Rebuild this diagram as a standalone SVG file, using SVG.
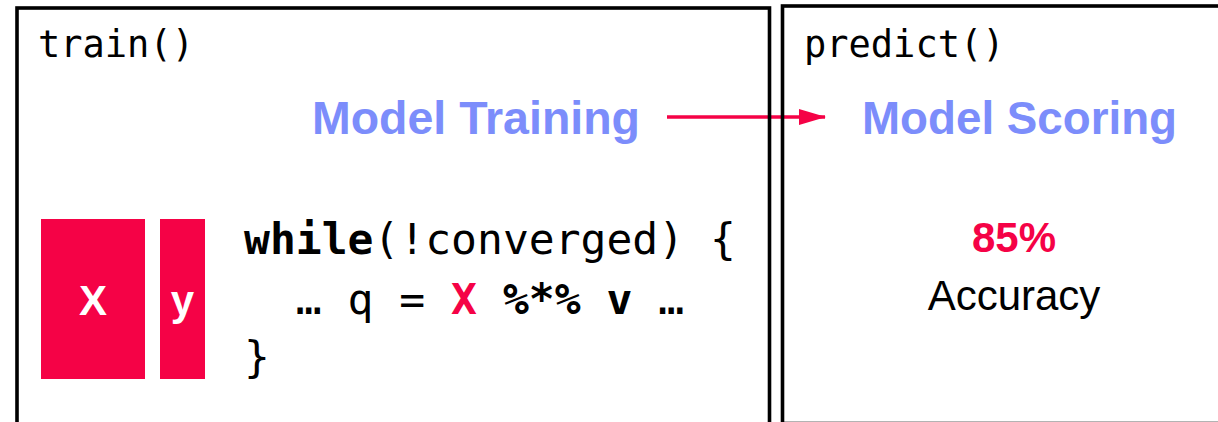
<svg xmlns="http://www.w3.org/2000/svg" width="1218" height="422" viewBox="0 0 1218 422">
<style>
.box{fill:none;stroke:#000;stroke-width:3.6}
.mono{font-family:"DejaVu Sans Mono","Liberation Mono",monospace;fill:#000}
.title{font-family:"Liberation Sans",Arial,sans-serif;font-weight:bold;font-size:46px;fill:#7C8DFB;text-anchor:middle}
.red{fill:#F50246}
.b{font-weight:bold}
.lbl{font-family:"Liberation Sans",Arial,sans-serif;font-weight:bold;font-size:42px;fill:#fff;text-anchor:middle}
</style>
<defs>
<marker id="ah" markerUnits="userSpaceOnUse" markerWidth="27" markerHeight="16" refX="26" refY="8" orient="auto">
<path d="M0,0 L27,8 L0,16 Z" fill="#F50246"/>
</marker>
</defs>
<rect width="1218" height="422" fill="#fff"/>
<g id="connectors">
<line x1="667" y1="117" x2="825" y2="117" stroke="#F50246" stroke-width="3.6" marker-end="url(#ah)"/>
</g>
<g id="train">
<rect class="box" x="17" y="8" width="752.5" height="416.5"/>
<text class="mono" x="38" y="57" font-size="37">train()</text>
<text class="title" x="476" y="134" textLength="328" lengthAdjust="spacingAndGlyphs">Model Training</text>
</g>
<g id="X">
<rect class="red" x="41" y="219" width="104" height="160"/>
<text class="lbl" x="93" y="315">X</text>
</g>
<g id="y">
<rect class="red" x="160" y="219" width="45" height="160"/>
<text class="lbl" x="182.5" y="315">y</text>
</g>
<g id="code" class="mono" font-size="43">
<text x="244" y="254" xml:space="preserve"><tspan class="b">while</tspan>(!converged) {</text>
<text x="244" y="314" xml:space="preserve">  … q = <tspan class="b red">X</tspan> <tspan class="b">%*% v</tspan> …</text>
<text x="244" y="372">}</text>
</g>
<g id="predict">
<rect class="box" x="782.5" y="6" width="440" height="417.5"/>
<text class="mono" x="804" y="57" font-size="37">predict()</text>
<text class="title" x="1019.5" y="134" textLength="315" lengthAdjust="spacingAndGlyphs">Model Scoring</text>
<text x="1014" y="252" font-family="Liberation Sans, Arial, sans-serif" font-weight="bold" font-size="42" fill="#F50246" text-anchor="middle">85%</text>
<text x="1014" y="310" font-family="Liberation Sans, Arial, sans-serif" font-size="42" fill="#000" text-anchor="middle">Accuracy</text>
</g>
</svg>
